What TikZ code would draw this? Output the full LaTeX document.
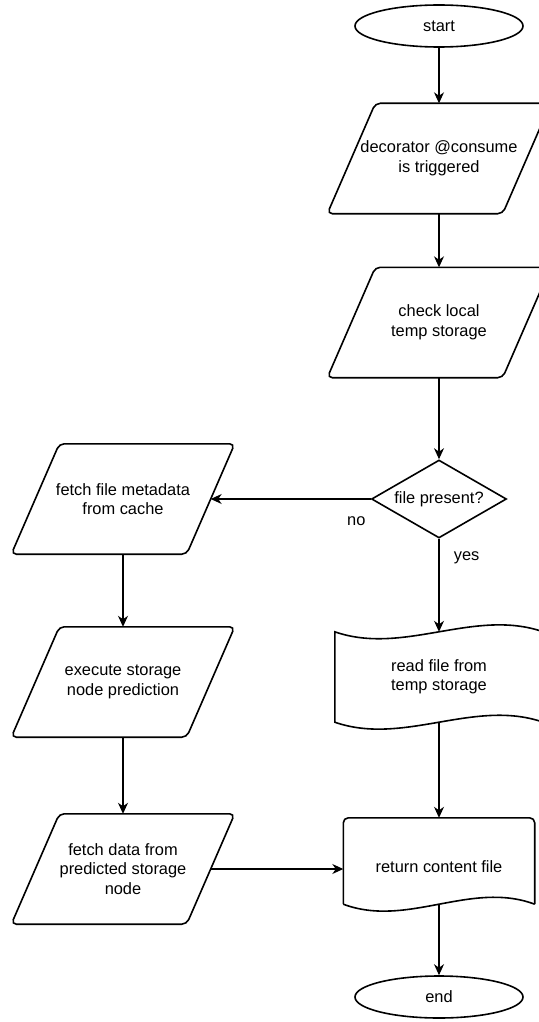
\documentclass[tikz,border=0pt]{standalone}
\usepackage{fontspec}
\setmainfont{Liberation Sans}
\usetikzlibrary{shapes.geometric, arrows.meta, positioning, calc}
\tikzstyle{startstop} = [ellipse, minimum width=168pt, minimum height=42pt, inner sep=0pt, draw=black, line width=1.6pt]
\tikzstyle{io} = [rectangle, minimum width=175pt, minimum height=110pt, inner sep=0pt, align=center]
\tikzstyle{decision} = [diamond, aspect=1.73, minimum width=135pt, minimum height=78pt, inner sep=0pt, draw=black, line width=1.6pt]
\tikzstyle{tapebox} = [rectangle, minimum width=208pt, minimum height=90pt, align=center]
\tikzstyle{docbox} = [rectangle, minimum width=191pt, minimum height=98pt, align=center]
\tikzstyle{outline} = [draw=black, line width=1.6pt]
\tikzstyle{arrow} = [line width=1.1pt, -{Stealth[length=11pt, width=10pt, inset=3.5pt]}]

\begin{document}
\begin{tikzpicture}[x=1pt, y=1pt, node distance=180pt, every node/.style={font=\fontsize{16.4}{19.5}\selectfont}]
    \useasboundingbox (0,0) rectangle (538,-1022);
    \node (start) [startstop] at (439,-26) {start};
    \node (trigger) [io, below of=start, yshift=47.5pt] {decorator @consume\\is triggered};
    \node (check) [io, below of=trigger, yshift=16pt] {check local\\temp storage};
    \node (present) [decision, below of=check, yshift=3.5pt] {file present?};
    \node (readfile) [tapebox, below of=present, yshift=2pt] {read file from\\temp storage};
    \node (retfile) [docbox, below of=readfile, yshift=-10pt] {return content file};
    \node (end) [startstop, below of=retfile, yshift=50pt] {end};

    \node (metadata) [io, left of=present, xshift=-136pt] {fetch file metadata\\from cache};
    \node (predict) [io, below of=metadata, yshift=-3pt] {execute storage\\node prediction};
    \node (fetchdata) [io, below of=predict, yshift=-7pt] {fetch data from\\predicted storage\\node};

    % slanted input/output boxes
    \foreach \n in {trigger, check, metadata, predict, fetchdata}
        \draw [outline, rounded corners=5pt] ($(\n.south west)+(-24pt,0)$) -- ($(\n.north west)+(24pt,0)$)
            -- ($(\n.north east)+(24pt,0)$) -- ($(\n.south east)+(-24pt,0)$) -- cycle;

    % wavy outlines
    \draw [outline] (readfile.north west) .. controls +(69pt,-24pt) and +(-69pt,24pt) .. (readfile.north east)
        -- (readfile.south east) .. controls +(-69pt,24pt) and +(69pt,-24pt) .. (readfile.south west) -- cycle;
    \coordinate (retleft) at ($(retfile.south west)+(0,12pt)$);
    \coordinate (retright) at ($(retfile.south east)+(0,12pt)$);
    \coordinate (retbottom) at ($(retfile.south)+(0,12pt)$);
    \draw [outline, rounded corners=5pt] (retleft) -- (retfile.north west) -- (retfile.north east) -- (retright);
    \draw [outline] (retright) .. controls +(-64pt,24pt) and +(64pt,-24pt) .. (retleft);

    \draw [arrow] (start) -- (trigger);
    \draw [arrow] (trigger) -- (check);
    \draw [arrow] (check) -- (present);
    \draw [arrow] (present.west) -- node[pos=0.09, yshift=-22pt] {no} (metadata.east);
    \draw [arrow] (present) -- node[pos=0.2, right, xshift=11pt] {yes} (readfile);
    \draw [arrow] (readfile) -- (retfile);
    \draw [arrow] (retbottom) -- (end);

    \draw [arrow] (metadata) -- (predict);
    \draw [arrow] (predict) -- (fetchdata);
    \draw [arrow] (fetchdata.east) -- (fetchdata.east -| retfile.west);
\end{tikzpicture}
\end{document}
